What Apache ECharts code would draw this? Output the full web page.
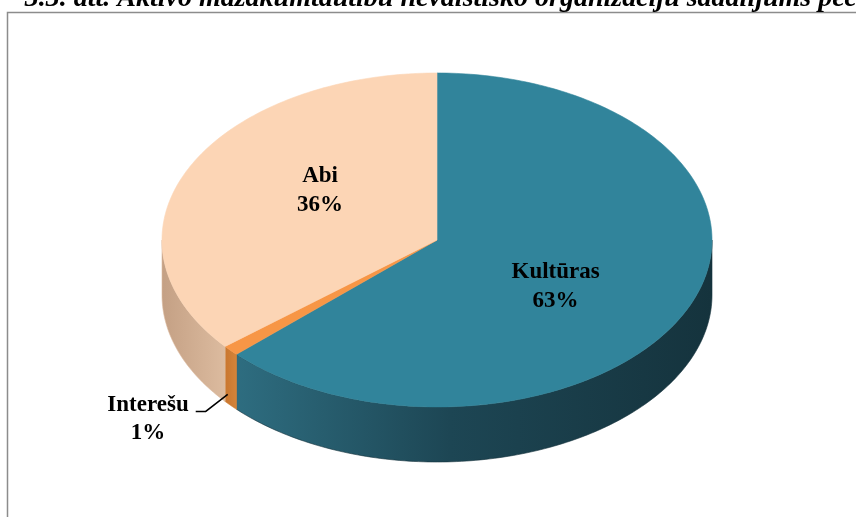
<!DOCTYPE html>
<html><head><meta charset="utf-8">
<script src="https://cdn.jsdelivr.net/npm/echarts@6/dist/echarts.min.js"></script>
<style>html,body{margin:0;padding:0;background:#fff;overflow:hidden}#c{width:856px;height:517px}</style>
</head><body><div id="c"></div>
<script>
// ---- data ----
const categories = ['Kultūras', 'Interešu', 'Abi'];
const values = [63, 1, 36];
const titlePrefix = '3.3. att. Aktīvo mazākumtautību nevalstisko ';
const titleRest = 'organizāciju sadalījums pēc darbības jomas';

// ---- style ----
const topColors = ['#31849b', '#f79646', '#fcd5b5'];
const sideStops = [
  [[0, '#2e6d80'], [0.45, '#1d4654'], [1, '#15333d']],
  [[0, '#c9762f'], [1, '#d4843a']],
  [[0, '#c4a084'], [1, '#dcbb9f']]
];
const CX = 437, CY = 240, RX = 275, RY = 167, DEPTH = 55;
const FONT = 'bold 23px "Liberation Serif", "Times New Roman", serif';

const total = values.reduce((a, b) => a + b, 0);
const starts = [];
let acc = 0;
values.forEach(v => { starts.push(acc / total * 360); acc += v; });

function pt(deg, dy) {
  const r = deg * Math.PI / 180;
  return [CX + RX * Math.sin(r), CY - RY * Math.cos(r) + (dy || 0)];
}
function arc(a0, a1, dy) {
  const n = Math.max(2, Math.ceil(Math.abs(a1 - a0)));
  const out = [];
  for (let i = 0; i <= n; i++) out.push(pt(a0 + (a1 - a0) * i / n, dy));
  return out;
}
const mctx = document.createElement('canvas').getContext('2d');
function textW(t, f) { mctx.font = f; return mctx.measureText(t).width; }

function renderItem(params, api) {
  const i = params.dataIndex;
  const v = api.value(0);
  const a0 = starts[i];
  const a1 = a0 + v / total * 360;
  const children = [];
  const s0 = Math.max(a0, 90), s1 = Math.min(a1, 270);
  if (s1 > s0) {
    const topArc = arc(s0, s1, 0);
    const botArc = arc(s1, s0, DEPTH);
    const xs = topArc.map(p => p[0]);
    const minX = Math.min.apply(null, xs), maxX = Math.max.apply(null, xs);
    children.push({
      type: 'polygon',
      shape: { points: topArc.concat(botArc) },
      style: {
        fill: new echarts.graphic.LinearGradient(minX, 0, maxX, 0,
          sideStops[i].map(s => ({ offset: s[0], color: s[1] })), true),
        stroke: sideStops[i][sideStops[i].length - 1][1], lineWidth: 0.6
      }
    });
  }
  children.push({
    type: 'polygon',
    shape: { points: [[CX, CY]].concat(arc(a0, a1, 0)) },
    style: { fill: topColors[i], stroke: topColors[i], lineWidth: 0.6 },
    z2: 5
  });
  const pct = Math.round(v / total * 100) + '%';
  const name = categories[i];
  const mid = (a0 + a1) / 2;
  const r = mid * Math.PI / 180;
  if (v / total >= 0.05) {
    children.push({
      type: 'text', z2: 10,
      style: {
        text: name + '\n' + pct,
        x: CX + RX * 0.47 * Math.sin(r), y: CY - RY * 0.7 * Math.cos(r),
        font: FONT, fill: '#000', align: 'center', verticalAlign: 'middle', lineHeight: 29
      }
    });
  } else {
    const p = pt(mid, DEPTH * 0.8);
    const anchor = [p[0] - 3, p[1]];
    const elbow = [anchor[0] - 22, anchor[1] + 17];
    const end = [elbow[0] - 10, elbow[1]];
    children.push({
      type: 'polyline', z2: 10,
      shape: { points: [anchor, elbow, end] },
      style: { stroke: '#000', lineWidth: 1.5, fill: null }
    });
    const w = Math.max(textW(name, FONT), textW(pct, FONT));
    children.push({
      type: 'text', z2: 10,
      style: {
        text: name + '\n' + pct,
        x: end[0] - 7 - w / 2, y: end[1] + 8,
        font: FONT, fill: '#000', align: 'center', verticalAlign: 'middle', lineHeight: 28
      }
    });
  }
  return { type: 'group', children };
}

const TFONT = 'italic bold 28px "Liberation Serif", "Times New Roman", serif';
const titleX = 535 - textW(titlePrefix, TFONT);

const chart = echarts.init(document.getElementById('c'), null, { renderer: 'canvas' });
chart.setOption({
  animation: false,
  backgroundColor: '#ffffff',
  graphic: [
    { type: 'rect', z: 0, shape: { x: 7.5, y: 12.5, width: 1000, height: 1000 },
      style: { fill: '#fff', stroke: '#8c8c8c', lineWidth: 1.5 } },
    { type: 'text', z: 1, style: { text: titlePrefix + titleRest, x: titleX, y: -1,
      font: TFONT, fill: '#000', align: 'left', verticalAlign: 'middle' } }
  ],
  series: [{
    type: 'custom',
    coordinateSystem: 'none',
    z: 5,
    renderItem: renderItem,
    data: values.map((v, i) => ({ value: [v], name: categories[i] }))
  }]
});
</script></body></html>
